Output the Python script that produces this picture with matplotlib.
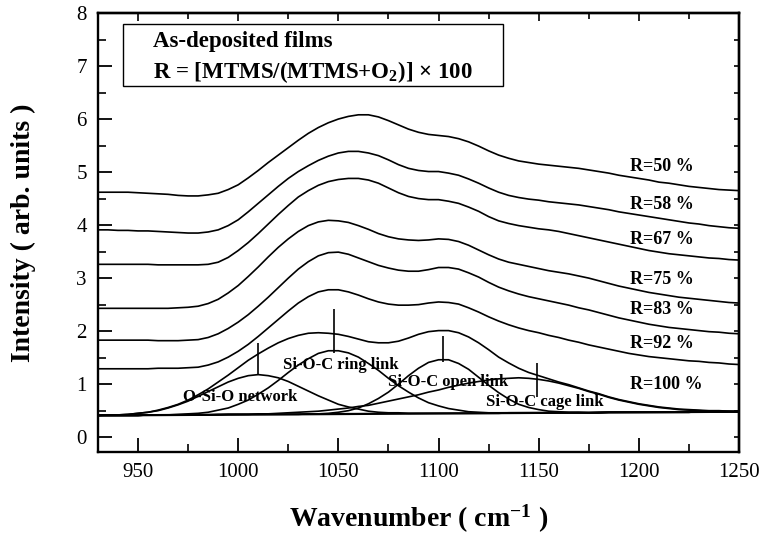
import matplotlib
matplotlib.use("Agg")
import matplotlib.pyplot as plt
from matplotlib.ticker import MultipleLocator, NullFormatter
from matplotlib.patches import Rectangle

plt.rcParams['font.family'] = ['Liberation Serif', 'DejaVu Serif']
plt.rcParams['mathtext.fontset'] = 'custom'
plt.rcParams['mathtext.rm'] = 'Liberation Serif:bold'
plt.rcParams['mathtext.it'] = 'Liberation Serif:bold'
plt.rcParams['mathtext.bf'] = 'Liberation Serif:bold'

# ---------------- data ----------------
wavenumber = list(range(930, 1251, 5))

r50 = [4.62, 4.62, 4.62, 4.62, 4.61, 4.60, 4.59, 4.58, 4.56, 4.55, 4.55, 4.57, 4.60, 4.67, 4.76, 4.89, 5.03,
       5.18, 5.32, 5.46, 5.60, 5.73, 5.84, 5.93, 6.00, 6.05, 6.08, 6.08, 6.04, 5.97, 5.89, 5.81, 5.75,
       5.71, 5.69, 5.67, 5.63, 5.57, 5.49, 5.40, 5.32, 5.26, 5.21, 5.18, 5.15, 5.13, 5.11, 5.09, 5.07,
       5.04, 5.01, 4.98, 4.94, 4.91, 4.88, 4.85, 4.81, 4.79, 4.76, 4.73, 4.71, 4.69, 4.67, 4.66, 4.65]
r58 = [3.91, 3.91, 3.90, 3.90, 3.89, 3.89, 3.88, 3.87, 3.86, 3.85, 3.85, 3.87, 3.91, 3.99, 4.10, 4.25, 4.41,
       4.57, 4.73, 4.88, 5.01, 5.12, 5.22, 5.30, 5.36, 5.39, 5.39, 5.36, 5.31, 5.23, 5.14, 5.07, 5.03,
       5.01, 5.01, 4.98, 4.94, 4.87, 4.79, 4.70, 4.62, 4.56, 4.52, 4.49, 4.47, 4.44, 4.42, 4.40, 4.38,
       4.35, 4.32, 4.29, 4.25, 4.22, 4.19, 4.16, 4.13, 4.10, 4.07, 4.04, 4.02, 3.99, 3.97, 3.95, 3.94]
r67 = [3.26, 3.26, 3.26, 3.26, 3.26, 3.26, 3.25, 3.25, 3.25, 3.25, 3.25, 3.26, 3.30, 3.39, 3.52, 3.67, 3.84,
       4.02, 4.20, 4.37, 4.53, 4.65, 4.75, 4.82, 4.86, 4.88, 4.88, 4.85, 4.79, 4.70, 4.61, 4.54, 4.50,
       4.48, 4.48, 4.45, 4.41, 4.34, 4.26, 4.16, 4.08, 4.03, 3.99, 3.96, 3.93, 3.91, 3.88, 3.84, 3.80,
       3.76, 3.72, 3.68, 3.64, 3.60, 3.56, 3.52, 3.49, 3.46, 3.44, 3.42, 3.40, 3.38, 3.37, 3.35, 3.34]
r75 = [2.43, 2.43, 2.43, 2.43, 2.43, 2.43, 2.43, 2.43, 2.44, 2.45, 2.47, 2.52, 2.60, 2.72, 2.86, 3.03, 3.21,
       3.40, 3.58, 3.74, 3.88, 3.99, 4.06, 4.09, 4.08, 4.05, 3.99, 3.92, 3.84, 3.78, 3.74, 3.72, 3.71,
       3.72, 3.74, 3.73, 3.69, 3.62, 3.53, 3.44, 3.36, 3.30, 3.26, 3.22, 3.18, 3.14, 3.11, 3.08, 3.04,
       3.00, 2.95, 2.90, 2.85, 2.81, 2.77, 2.73, 2.70, 2.67, 2.64, 2.62, 2.60, 2.58, 2.56, 2.54, 2.53]
r83 = [1.83, 1.83, 1.83, 1.83, 1.83, 1.83, 1.82, 1.82, 1.82, 1.83, 1.84, 1.88, 1.95, 2.05, 2.17, 2.31, 2.47,
       2.64, 2.82, 3.00, 3.17, 3.31, 3.42, 3.48, 3.49, 3.45, 3.38, 3.31, 3.24, 3.19, 3.15, 3.13, 3.13,
       3.16, 3.20, 3.20, 3.17, 3.10, 3.02, 2.92, 2.83, 2.76, 2.70, 2.65, 2.61, 2.57, 2.53, 2.49, 2.44,
       2.40, 2.35, 2.30, 2.25, 2.21, 2.17, 2.13, 2.10, 2.07, 2.05, 2.03, 2.01, 1.99, 1.98, 1.96, 1.95]
r92 = [1.29, 1.29, 1.29, 1.29, 1.29, 1.29, 1.30, 1.30, 1.30, 1.31, 1.32, 1.36, 1.42, 1.51, 1.62, 1.75, 1.90,
       2.06, 2.22, 2.38, 2.53, 2.65, 2.74, 2.78, 2.78, 2.74, 2.68, 2.61, 2.55, 2.51, 2.49, 2.49, 2.50,
       2.53, 2.55, 2.54, 2.51, 2.44, 2.36, 2.27, 2.19, 2.12, 2.06, 2.01, 1.97, 1.92, 1.88, 1.83, 1.79,
       1.74, 1.70, 1.66, 1.62, 1.58, 1.55, 1.52, 1.50, 1.48, 1.46, 1.44, 1.43, 1.41, 1.40, 1.38, 1.37]
r100 = [0.41, 0.42, 0.42, 0.43, 0.45, 0.47, 0.51, 0.56, 0.62, 0.70, 0.80, 0.91, 1.04, 1.17, 1.31, 1.45, 1.57,
        1.68, 1.78, 1.86, 1.92, 1.96, 1.97, 1.96, 1.94, 1.90, 1.85, 1.80, 1.78, 1.78, 1.81, 1.87, 1.94,
        1.99, 2.01, 2.01, 1.97, 1.89, 1.78, 1.65, 1.51, 1.40, 1.30, 1.22, 1.16, 1.10, 1.04, 0.99, 0.93,
        0.87, 0.82, 0.76, 0.71, 0.67, 0.63, 0.60, 0.57, 0.55, 0.53, 0.52, 0.51, 0.50, 0.50, 0.49, 0.49]

spectra = [r50, r58, r67, r75, r83, r92, r100]
spectrum_labels = ["R=50 %", "R=58 %", "R=67 %", "R=75 %", "R=83 %", "R=92 %", "R=100 %"]
label_y = [5.10, 4.38, 3.73, 2.97, 2.40, 1.77, 0.99]

# deconvoluted components of R=100 %
osio = [0.41, 0.42, 0.42, 0.43, 0.45, 0.47, 0.50, 0.55, 0.61, 0.68, 0.77, 0.86, 0.95, 1.04, 1.11, 1.16, 1.18,
        1.16, 1.12, 1.05, 0.96, 0.87, 0.78, 0.70, 0.62, 0.57, 0.53, 0.49, 0.47, 0.46, 0.46, 0.45, 0.45,
        0.45, 0.45, 0.45, 0.45, 0.45, 0.45, 0.45, 0.45, 0.46, 0.46, 0.46, 0.46, 0.46, 0.46, 0.46, 0.46,
        0.46, 0.46, 0.47, 0.47, 0.47, 0.47, 0.47, 0.47, 0.47, 0.47, 0.47, 0.48, 0.48, 0.48, 0.48, 0.48]
ring = [0.41, 0.41, 0.41, 0.41, 0.41, 0.42, 0.42, 0.42, 0.43, 0.44, 0.45, 0.47, 0.51, 0.55, 0.62, 0.70, 0.81,
        0.93, 1.07, 1.22, 1.36, 1.48, 1.58, 1.63, 1.63, 1.59, 1.51, 1.39, 1.26, 1.11, 0.97, 0.85, 0.74,
        0.65, 0.59, 0.54, 0.51, 0.48, 0.47, 0.46, 0.46, 0.46, 0.46,
        0.46, 0.46, 0.46, 0.46, 0.46, 0.46, 0.46, 0.46, 0.47, 0.47, 0.47, 0.47, 0.47, 0.47, 0.47, 0.47,
        0.47, 0.48, 0.48, 0.48, 0.48, 0.48]
open_link = [0.41, 0.41, 0.41, 0.41, 0.41, 0.42, 0.42, 0.42, 0.42, 0.42, 0.42, 0.42, 0.42, 0.43, 0.43, 0.43,
             0.43, 0.43, 0.43, 0.43, 0.43, 0.44, 0.44, 0.45, 0.47, 0.50, 0.55, 0.63, 0.73, 0.85, 1.00, 1.16,
             1.30, 1.41, 1.46, 1.46, 1.39, 1.28, 1.13, 0.98, 0.84, 0.72, 0.62, 0.56, 0.52, 0.49, 0.48, 0.47,
             0.47, 0.46, 0.47, 0.47, 0.47, 0.47, 0.47, 0.47, 0.47, 0.47, 0.47, 0.47, 0.48, 0.48, 0.48, 0.48,
             0.48]
cage = [0.41, 0.41, 0.41, 0.41, 0.41, 0.42, 0.42, 0.42, 0.42, 0.42, 0.42, 0.42, 0.43, 0.43, 0.43, 0.43, 0.44,
        0.44, 0.45, 0.46, 0.47, 0.48, 0.49, 0.51, 0.53, 0.55, 0.58, 0.60, 0.64, 0.68, 0.72, 0.76, 0.80,
        0.85, 0.89, 0.94, 0.98, 1.02, 1.05, 1.08, 1.10, 1.11, 1.12,
        1.11, 1.09, 1.06, 1.02, 0.97, 0.92, 0.86, 0.81, 0.75, 0.70, 0.66, 0.62, 0.59, 0.56, 0.54, 0.52,
        0.51, 0.50, 0.49, 0.49, 0.49, 0.48]
components = [osio, ring, open_link, cage]

baseline_x = [930, 1250]
baseline_y = [0.41, 0.48]

comp_names = ["O-Si-O network", "Si-O-C ring link", "Si-O-C open link", "Si-O-C cage link"]
comp_label_x = [1001, 1051, 1105, 1153]
comp_label_y = [0.76, 1.36, 1.04, 0.67]
marker_x = [1010, 1048, 1102, 1149]
marker_lo = [1.18, 1.58, 1.42, 0.76]
marker_hi = [1.78, 2.41, 1.91, 1.39]

x_ticks = [950, 1000, 1050, 1100, 1150, 1200, 1250]
y_ticks = [0, 1, 2, 3, 4, 5, 6, 7, 8]

# ---------------- figure ----------------
fig = plt.figure(figsize=(7.63, 5.35), dpi=100)
ax = fig.add_axes([0.1284, 0.1551, 0.8402, 0.8206])

lw = 1.2
for s in spectra:
    ax.plot(wavenumber, s, color='black', lw=lw, solid_joinstyle='round')
for c in components:
    ax.plot(wavenumber, c, color='black', lw=lw, solid_joinstyle='round')
ax.plot(baseline_x, baseline_y, color='black', lw=1.6)
ax.vlines(marker_x, marker_lo, marker_hi, color='black', lw=1.2)

for name, xx, yy in zip(comp_names, comp_label_x, comp_label_y):
    ax.text(xx, yy, name, fontsize=12, fontweight='bold', ha='center', va='center')
for lab, yy in zip(spectrum_labels, label_y):
    ax.text(1195.7, yy, lab, fontsize=13, fontweight='bold', ha='left', va='center')

# inset box
ax.add_patch(Rectangle((0.0395, 0.834), 0.5925, 0.141, transform=ax.transAxes,
                       fill=False, edgecolor='black', lw=1.0))
ax.text(0.0853, 0.9346, "As-deposited films", transform=ax.transAxes, fontsize=16.5,
        fontweight='bold', ha='left', va='center')
ax.text(0.0853, 0.866, r"R = [MTMS/(MTMS+O$_2$)] × 100", transform=ax.transAxes, fontsize=16.5,
        fontweight='bold', ha='left', va='center')

ax.set_xlim(930, 1250)
ax.set_ylim(-0.28, 8)
ax.set_xticks(x_ticks)
ax.set_yticks(y_ticks)
ax.xaxis.set_minor_locator(MultipleLocator(25))
ax.yaxis.set_minor_locator(MultipleLocator(0.5))
ax.tick_params(which='major', direction='in', length=10, width=1.3, labelsize=15, pad=8)
ax.tick_params(which='minor', direction='in', length=5.5, width=1.2)

for sp in ax.spines.values():
    sp.set_linewidth(1.7)

top = ax.secondary_xaxis('top')
top.set_xticks(x_ticks)
top.xaxis.set_minor_locator(MultipleLocator(25))
top.xaxis.set_major_formatter(NullFormatter())
top.tick_params(which='major', direction='in', length=5.5, width=1.2)
top.tick_params(which='minor', direction='in', length=4, width=1.2)
top.spines['top'].set_linewidth(1.7)

right = ax.secondary_yaxis('right')
right.set_yticks(y_ticks)
right.yaxis.set_minor_locator(MultipleLocator(0.5))
right.yaxis.set_major_formatter(NullFormatter())
right.tick_params(which='both', direction='in', length=3.5, width=1.2)
right.spines['right'].set_linewidth(1.7)

ax.set_xlabel(r"Wavenumber ( cm$^{-1}$ )", fontsize=20, fontweight='bold')
ax.set_ylabel("Intensity ( arb. units )", fontsize=20, fontweight='bold')
ax.xaxis.set_label_coords(0.5, -0.115)
ax.yaxis.set_label_coords(-0.097, 0.5)

fig.savefig("out.png", dpi=100)
